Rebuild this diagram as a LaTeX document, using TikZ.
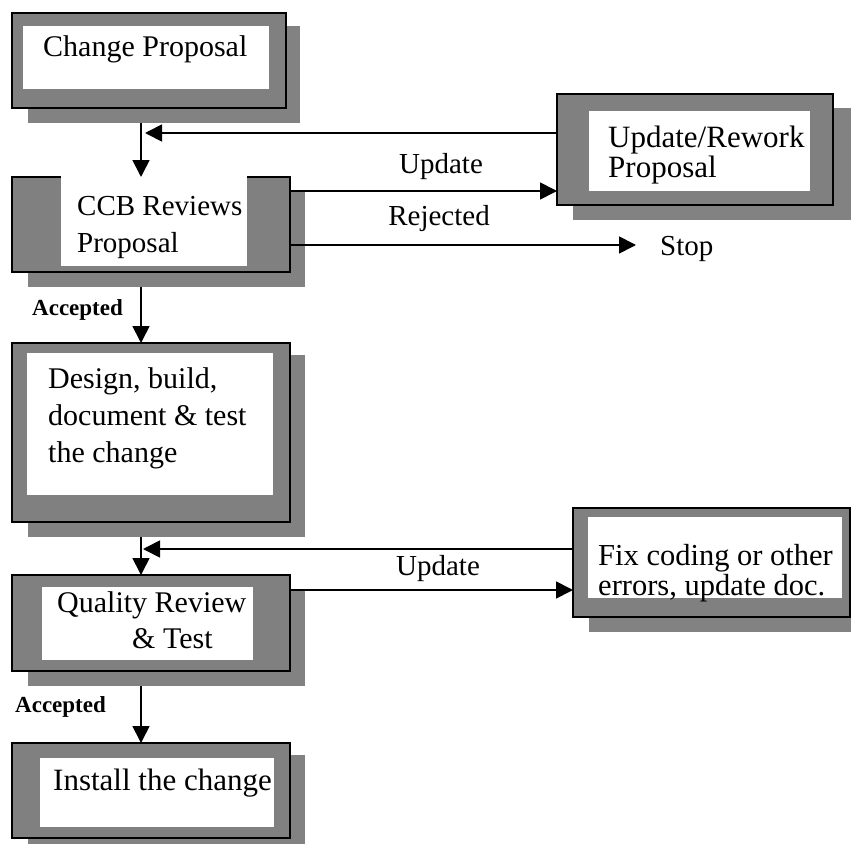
\documentclass[tikz,border=0pt]{standalone}
\usepackage{fontspec}
\setmainfont{Liberation Serif}
\usetikzlibrary{arrows.meta,calc}
\definecolor{boxgray}{RGB}{128,128,128}
\definecolor{shadegray}{RGB}{130,130,130}
\tikzset{
  outerbox/.style={draw=black,line width=1.6pt,fill=boxgray,inner sep=0pt,outer sep=0pt},
  shadebox/.style={fill=shadegray,draw=none,inner sep=0pt,outer sep=0pt},
  innerbox/.style={fill=white,draw=none,inner sep=0pt,outer sep=0pt},
  txt/.style={anchor=base west,inner sep=0pt,font=\fontsize{30}{37}\selectfont},
  txtb/.style={anchor=base west,inner sep=0pt,font=\fontsize{31}{37}\selectfont},
  lbl/.style={anchor=base,inner sep=0pt,font=\fontsize{29}{35}\selectfont},
  acc/.style={anchor=base west,inner sep=0pt,font=\fontsize{23}{27}\selectfont\bfseries},
  conn/.style={line width=1.7pt,-{Triangle[length=17pt,width=17pt]}},
}
\begin{document}
\begin{tikzpicture}[x=1pt,y=-1pt]
\useasboundingbox (0,0) rectangle (851,843);
% ---- box 1
\node[shadebox,minimum width=272pt,minimum height=97pt] (s1) at (164,74.5) {};
\node[outerbox,minimum width=274pt,minimum height=95pt] (b1) at (149,60.5) {};
\node[innerbox,minimum width=246pt,minimum height=63pt] (i1) at (146,57.5) {};
\node[txt] (t1) at (43,57) {Change Proposal};
% ---- box 2
\node[shadebox,minimum width=277pt,minimum height=97pt] (s2) at (166.5,238.5) {};
\node[outerbox,minimum width=278pt,minimum height=95pt] (b2) at (151,224.5) {};
\node[innerbox,minimum width=186pt,minimum height=90pt] (i2) at (154,221) {};
\node[txt,font=\fontsize{29}{37}\selectfont] (t2a) at (77,215) {CCB Reviews};
\node[txt,font=\fontsize{29}{37}\selectfont] (t2b) at (77,252) {Proposal};
% ---- box 3
\node[shadebox,minimum width=278pt,minimum height=112pt] (s3) at (712,164) {};
\node[outerbox,minimum width=276pt,minimum height=111pt] (b3) at (695,149.5) {};
\node[innerbox,minimum width=221pt,minimum height=80pt] (i3) at (699.5,151) {};
\node[txtb] (t3a) at (608,147) {Update/Rework};
\node[txtb] (t3b) at (608,177) {Proposal};
% ---- box 4
\node[shadebox,minimum width=277pt,minimum height=182pt] (s4) at (166.5,446) {};
\node[outerbox,minimum width=278pt,minimum height=179pt] (b4) at (151,432.5) {};
\node[innerbox,minimum width=246pt,minimum height=142pt] (i4) at (150,424) {};
\node[txt] (t4a) at (48,388) {Design, build,};
\node[txt] (t4b) at (48,425) {document \& test};
\node[txt] (t4c) at (48,462) {the change};
% ---- box 5
\node[shadebox,minimum width=277pt,minimum height=96pt] (s5) at (166.5,638) {};
\node[outerbox,minimum width=278pt,minimum height=96pt] (b5) at (151,623) {};
\node[innerbox,minimum width=211pt,minimum height=73pt] (i5) at (147.5,623.5) {};
\node[txt] (t5a) at (57,612) {Quality Review};
\node[txt] (t5b) at (132,648) {\& Test};
% ---- box 6
\node[shadebox,minimum width=262pt,minimum height=112pt] (s6) at (720,576) {};
\node[outerbox,minimum width=277pt,minimum height=109pt] (b6) at (711.5,562.5) {};
\node[innerbox,minimum width=254pt,minimum height=81pt] (i6) at (715,557.5) {};
\node[txtb,font=\fontsize{30.5}{37}\selectfont] (t6a) at (598,565) {Fix coding or other};
\node[txtb,font=\fontsize{30.5}{37}\selectfont] (t6b) at (598,595) {errors, update doc.};
% ---- box 7
\node[shadebox,minimum width=277pt,minimum height=90pt] (s7) at (166.5,800) {};
\node[outerbox,minimum width=278pt,minimum height=95pt] (b7) at (151,790.5) {};
\node[innerbox,minimum width=234pt,minimum height=69pt] (i7) at (157,792.5) {};
\node[txtb] (t7) at (53,790) {Install the change};
% ---- spine and end points
\coordinate (spine) at (141,0);
\coordinate (r1) at (145,133);
\coordinate (r2) at (143,549);
\coordinate (stopend) at (636,245);
% ---- connectors
\draw[conn] (s1.south -| spine) -- (b2.north -| spine);
\draw[conn] ([yshift=16.5pt]b3.west) -- (r1);
\draw[conn] ([yshift=33.5pt]b2.east) -- ([yshift=33.5pt]b2.east -| b3.west);
\draw[conn] ([yshift=-20.5pt]b2.east) -- (stopend);
\node[lbl] (lu1) at (441,173) {Update};
\node[lbl] (lr1) at (439,225) {Rejected};
\node[anchor=base west,inner sep=0pt,font=\fontsize{29}{35}\selectfont] (stop) at (660,255) {Stop};
\draw[conn] (s2.south -| spine) -- (b4.north -| spine);
\node[acc] (a1) at (32,315) {Accepted};
\draw[conn] (s4.south -| spine) -- (b5.north -| spine);
\draw[conn] ([yshift=13.5pt]b6.west) -- (r2);
\draw[conn] ([yshift=33pt]b5.east) -- ([yshift=33pt]b5.east -| b6.west);
\node[lbl] (lu2) at (438,575) {Update};
\draw[conn] (s5.south -| spine) -- (b7.north -| spine);
\node[acc] (a2) at (15,712) {Accepted};
\end{tikzpicture}
\end{document}
